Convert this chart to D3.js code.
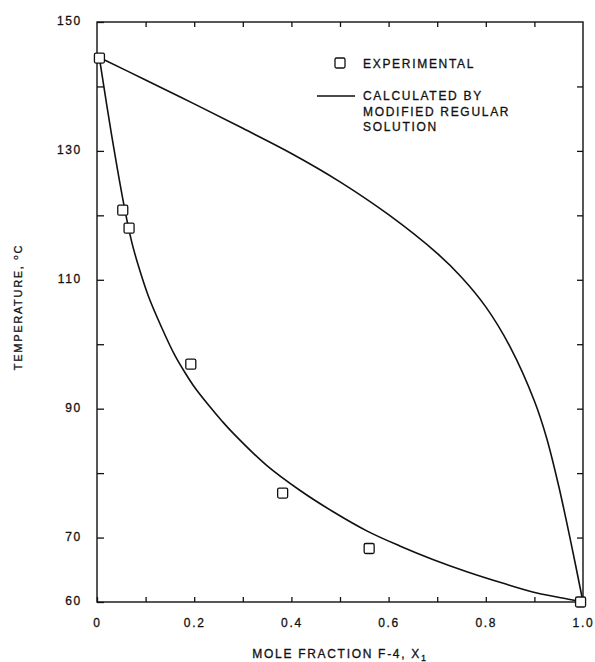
<!DOCTYPE html>
<html>
<head>
<meta charset="utf-8">
<script src="https://cdn.jsdelivr.net/npm/d3@7"></script>
<style>
  html, body { margin: 0; padding: 0; background: #fff; }
  svg { display: block; }
  text { font-family: "Liberation Sans", Arial, Helvetica, sans-serif; fill: #111; stroke: #111; stroke-width: 0.3px; }
</style>
</head>
<body>
<svg id="chart" width="595" height="662"></svg>
<script>
// ---- data ----
const expX = [0.005, 0.053, 0.066, 0.193, 0.382, 0.56, 0.995];
const expT = [144.4, 120.8, 118.0, 96.9, 76.9, 68.3, 60.0];

// liquidus (lower calculated curve)
const liqX = [0.005, 0.030, 0.058, 0.071, 0.085, 0.106, 0.133, 0.16, 0.181, 0.2, 0.229, 0.257, 0.28, 0.349, 0.418, 0.486, 0.556, 0.623, 0.691, 0.761, 0.836, 0.905, 0.973, 1.0];
const liqT = [144.4, 132.5, 120.6, 116.0, 112.2, 107.4, 102.6, 98.3, 95.6, 93.4, 90.6, 88.1, 86.2, 81.2, 77.3, 74.0, 71.0, 68.7, 66.6, 64.7, 62.9, 61.4, 60.4, 60.0];

// vapour (upper calculated curve)
const vapX = [0.005, 0.1, 0.2, 0.3, 0.4, 0.5, 0.6, 0.7, 0.75, 0.8, 0.85, 0.9, 0.925, 0.95, 0.975, 1.0];
const vapT = [144.5, 141.0, 137.3, 133.5, 129.6, 125.2, 120.1, 114.1, 110.4, 105.8, 99.6, 91.2, 85.5, 78.0, 69.3, 60.0];

const xTicks = [0, 0.1, 0.2, 0.3, 0.4, 0.5, 0.6, 0.7, 0.8, 0.9, 1.0];
const xTickLabels = ["0", "", "0.2", "", "0.4", "", "0.6", "", "0.8", "", "1.0"];
const yTicks = [60, 70, 80, 90, 100, 110, 120, 130, 140, 150];
const yTickLabels = ["60", "70", "", "90", "", "110", "", "130", "", "150"];

const legendLabels = ["EXPERIMENTAL", ["CALCULATED BY", "MODIFIED REGULAR", "SOLUTION"]];
const xTitle = "MOLE FRACTION F-4, X";
const xTitleSub = "1";
const yTitle = "TEMPERATURE, ";

// ---- layout ----
const L = 97, R = 583, T = 22, B = 602;
const svg = d3.select("#chart");
const x = d3.scaleLinear().domain([0, 1]).range([L, R]);
const y = d3.scaleLinear().domain([60, 150]).range([B, T]);
const ink = "#111";
const fs = "12px", ls = "1.7px";

// frame
svg.append("rect").attr("x", L).attr("y", T).attr("width", R - L).attr("height", B - T)
  .attr("fill", "none").attr("stroke", ink).attr("stroke-width", 1.4);

function styleAxis(g, showText) {
  g.select(".domain").remove();
  g.selectAll(".tick line").attr("stroke", ink).attr("stroke-width", 1.3);
  g.selectAll(".tick text").attr("font-size", fs).attr("letter-spacing", ls).attr("fill", ink)
    .attr("font-family", "Liberation Sans, Arial, sans-serif");
  if (!showText) g.selectAll(".tick text").remove();
}

// left axis
svg.append("g").attr("transform", `translate(${L},0)`)
  .call(d3.axisLeft(y).tickValues(yTicks).tickSize(-7).tickSizeOuter(0).tickPadding(15)
    .tickFormat((d, i) => yTickLabels[i]))
  .call(g => styleAxis(g, true))
  .call(g => g.selectAll(".tick text").attr("dy", "0.22em"));
// right axis
svg.append("g").attr("transform", `translate(${R},0)`)
  .call(d3.axisRight(y).tickValues(yTicks.filter(v => v > 60 && v < 150)).tickSize(-6).tickSizeOuter(0))
  .call(g => styleAxis(g, false));
// bottom axis
svg.append("g").attr("transform", `translate(0,${B})`)
  .call(d3.axisBottom(x).tickValues(xTicks).tickSize(-5).tickSizeOuter(0).tickPadding(16)
    .tickFormat((d, i) => xTickLabels[i]))
  .call(g => styleAxis(g, true));
// top axis
svg.append("g").attr("transform", `translate(0,${T})`)
  .call(d3.axisTop(x).tickValues(xTicks.filter(v => v > 0 && v < 1)).tickSize(-5).tickSizeOuter(0))
  .call(g => styleAxis(g, false));

// curves
const line = d3.line().x(d => x(d[0])).y(d => y(d[1])).curve(d3.curveCatmullRom.alpha(0.5));
svg.append("path").datum(liqX.map((v, i) => [v, liqT[i]]))
  .attr("d", line).attr("fill", "none").attr("stroke", ink).attr("stroke-width", 1.6);
svg.append("path").datum(vapX.map((v, i) => [v, vapT[i]]))
  .attr("d", line).attr("fill", "none").attr("stroke", ink).attr("stroke-width", 1.6);

// experimental squares
const sq = 10;
svg.append("g").selectAll("rect").data(expX.map((v, i) => [v, expT[i]])).join("rect")
  .attr("x", d => x(d[0]) - sq / 2).attr("y", d => y(d[1]) - sq / 2)
  .attr("width", sq).attr("height", sq).attr("rx", 1.5)
  .attr("fill", "#fff").attr("stroke", ink).attr("stroke-width", 1.3);

// legend
const lg = svg.append("g");
lg.append("rect").attr("x", 335).attr("y", 58).attr("width", sq).attr("height", sq).attr("rx", 1.5)
  .attr("fill", "#fff").attr("stroke", ink).attr("stroke-width", 1.3);
lg.append("text").attr("x", 363).attr("y", 68).attr("font-size", fs).attr("letter-spacing", ls)
  .text(legendLabels[0]);
lg.append("line").attr("x1", 317).attr("x2", 355).attr("y1", 96).attr("y2", 96)
  .attr("stroke", ink).attr("stroke-width", 1.5);
legendLabels[1].forEach((s, i) => {
  lg.append("text").attr("x", 363).attr("y", 100 + i * 15.7).attr("font-size", fs)
    .attr("letter-spacing", ls).text(s);
});

// x title
const xt = svg.append("text").attr("x", (L + R) / 2).attr("y", 658).attr("text-anchor", "middle")
  .attr("font-size", fs).attr("letter-spacing", ls);
xt.append("tspan").text(xTitle);
xt.append("tspan").attr("font-size", "9px").attr("dy", 3).text(xTitleSub);

// y title
const yt = svg.append("text").attr("transform", "translate(22,307) rotate(-90)")
  .attr("text-anchor", "middle").attr("font-size", "11px").attr("letter-spacing", ls);
yt.append("tspan").text(yTitle);
yt.append("tspan").attr("font-size", "8px").attr("dy", -4).text("o");
yt.append("tspan").attr("dy", 4).text("C");
</script>
</body>
</html>
